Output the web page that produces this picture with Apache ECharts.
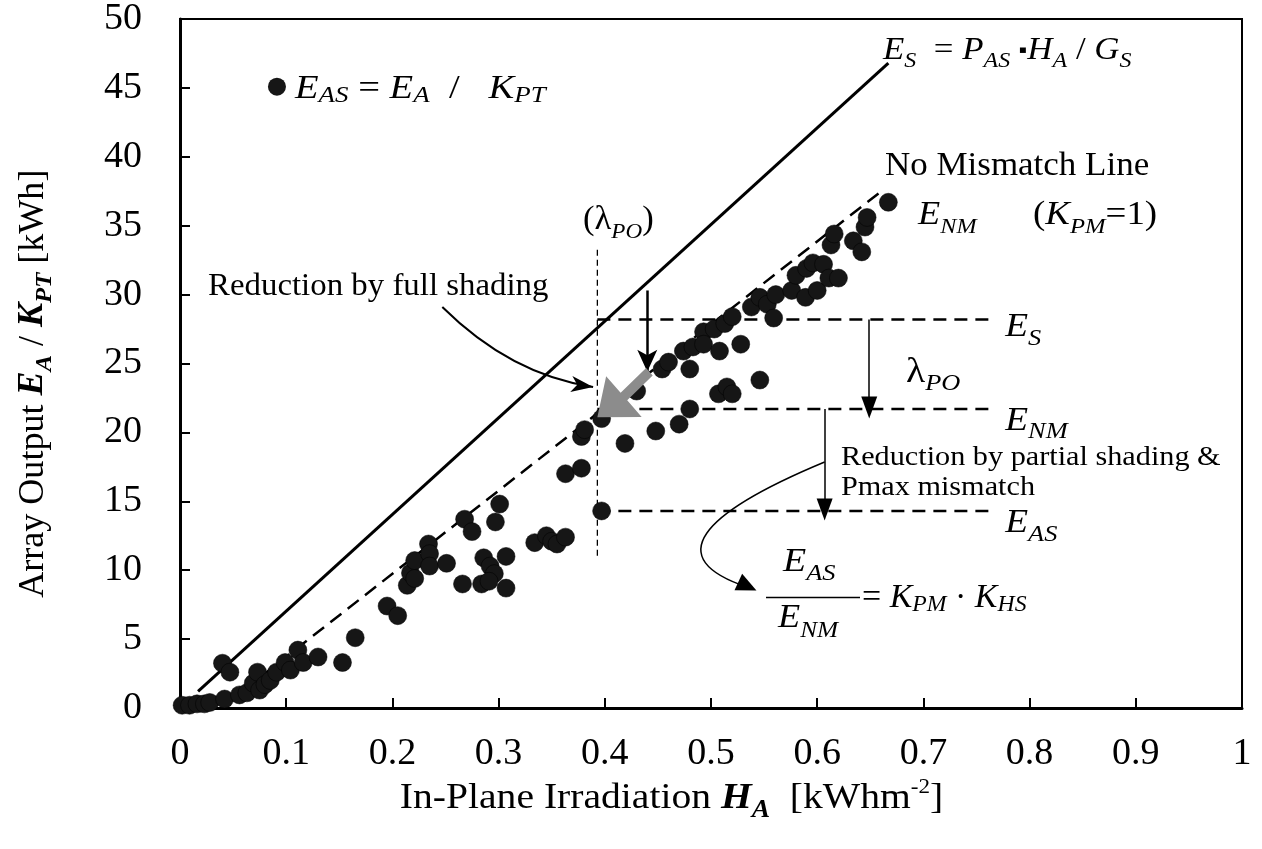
<!DOCTYPE html>
<html><head><meta charset="utf-8">
<script src="https://cdn.jsdelivr.net/npm/echarts@6/dist/echarts.min.js"></script>
<style>html,body{margin:0;padding:0;background:#fff}#c{width:1262px;height:849px}</style>
</head><body><div id="c"></div>
<script>
// ---------- data ----------
const irradiation = [0.002,0.009,0.016,0.023,0.028,0.042,0.040,0.047,0.056,0.063,0.069,0.073,0.075,0.080,0.085,0.091,0.099,0.104,0.111,0.116,0.130,0.153,0.165,0.195,0.205,0.214,0.217,0.221,0.221,0.234,0.235,0.235,0.251,0.268,0.275,0.266,0.284,0.286,0.292,0.296,0.291,0.297,0.301,0.307,0.307,0.334,0.345,0.350,0.355,0.363,0.363,0.378,0.378,0.381,0.397,0.397,0.419,0.430,0.448,0.454,0.460,0.470,0.474,0.480,0.480,0.483,0.493,0.493,0.503,0.507,0.508,0.513,0.515,0.520,0.520,0.528,0.538,0.546,0.546,0.553,0.559,0.561,0.576,0.580,0.589,0.590,0.596,0.600,0.606,0.611,0.613,0.616,0.620,0.634,0.642,0.645,0.647,0.667];
const arrayOutput = [0.2,0.2,0.3,0.3,0.4,0.65,3.25,2.6,0.95,1.1,1.8,2.6,1.3,1.7,2.0,2.6,3.3,2.75,4.2,3.3,3.7,3.3,5.1,7.4,6.7,8.9,9.8,9.4,10.7,11.9,11.2,10.3,10.5,13.7,12.8,9.0,9.0,10.9,10.3,9.75,9.2,13.5,14.8,11.0,8.7,12.0,12.5,12.1,11.9,12.4,17.0,17.4,19.7,20.2,21.0,14.3,19.2,23.0,20.1,24.6,25.1,20.6,25.9,21.7,24.6,26.2,27.3,26.4,27.5,22.8,25.9,27.9,23.3,22.8,28.4,26.4,29.1,29.8,23.8,29.3,28.3,30.0,30.3,31.4,29.8,31.9,32.3,30.3,32.2,31.2,33.6,34.4,31.2,33.9,33.1,34.9,35.6,36.7];
const esLine = [[0.017,1.2],[0.667,46.8]];          // E_S = P_AS*H_A/G_S
const enmLine = [[0.06,1.3],[0.662,37.6]];          // no mismatch line
const lambdaX = 0.393;                               // (λ_PO) marker
const lambdaSpan = [11.05,33.3];
const levelES = 28.2, levelENM = 21.7, levelEAS = 14.3;
const levelEnd = 0.764;
const xTickLabels = ['0','0.1','0.2','0.3','0.4','0.5','0.6','0.7','0.8','0.9','1'];
const yTickLabels = ['0','5','10','15','20','25','30','35','40','45','50'];

const FONT = '"Liberation Serif","Times New Roman",serif';
const chart = echarts.init(document.getElementById('c'));
const pts = irradiation.map((x,i)=>[x,arrayOutput[i]]);

function dashedSeg(a,b,w,dash){
  return {type:'line',data:[a,b],showSymbol:false,silent:true,z:3,
    lineStyle:{color:'#000',width:w,type:dash}};
}
function arrowSeries(segs,sym,size,w){
  return {type:'line',data:[],silent:true,z:4,
    markLine:{silent:true,symbol:['none',sym],symbolSize:size,label:{show:false},
      lineStyle:{color:'#000',width:w,type:'solid'},emphasis:{disabled:true},
      data:segs.map(s=>[{coord:s[0]},{coord:s[1]}])}};
}

chart.setOption({
  animation:false,
  grid:{left:180,right:20,top:15,bottom:141,show:true,borderColor:'#000',borderWidth:2},
  xAxis:{type:'value',min:0,max:1,interval:0.1,
    axisLine:{lineStyle:{color:'#000',width:3}},
    axisTick:{inside:true,length:10,lineStyle:{color:'#000',width:2}},
    axisLabel:{color:'#000',fontFamily:FONT,fontSize:38,margin:27,
      formatter:v=>xTickLabels[Math.round(v*10)]},
    splitLine:{show:false}},
  yAxis:{type:'value',min:0,max:50,interval:5,
    axisLine:{lineStyle:{color:'#000',width:3}},
    axisTick:{inside:true,length:10,lineStyle:{color:'#000',width:2}},
    axisLabel:{color:'#000',fontFamily:FONT,fontSize:38,margin:38,
      formatter:v=>yTickLabels[Math.round(v/5)]},
    splitLine:{show:false}},
  series:[
    {type:'line',data:esLine,showSymbol:false,silent:true,z:3,lineStyle:{color:'#000',width:3}},
    dashedSeg(enmLine[0],enmLine[1],2.5,[14,8]),
    dashedSeg([lambdaX,lambdaSpan[0]],[lambdaX,lambdaSpan[1]],1.3,[6,4]),
    dashedSeg([lambdaX,levelES],[levelEnd,levelES],2.5,[13,8]),
    dashedSeg([lambdaX,levelENM],[levelEnd,levelENM],2.5,[13,8]),
    dashedSeg([lambdaX,levelEAS],[levelEnd,levelEAS],2.5,[13,8]),
    {type:'scatter',data:pts,symbol:'circle',symbolSize:18,z:5,silent:true,
      itemStyle:{color:'#161616',opacity:1,borderColor:'#000',borderWidth:0.5}},
    arrowSeries([[[0.440,30.3],[0.440,24.4]]],'arrow',[15,22],2.5),
    arrowSeries([[[0.649,levelES],[0.649,levelENM+0.1]]],'triangle',[16,22],1.5),
    arrowSeries([[[0.607,levelENM],[0.607,levelEAS+0.1]]],'triangle',[16,22],1.5)
  ]
});

const mctx = document.createElement('canvas').getContext('2d');
function fstr(p){return (p.i?'italic ':'')+(p.b?'bold ':'')+p.s+'px '+FONT;}
function run(x0,base,pieces,sx){
  sx=sx||1;let x=x0;const out=[];
  pieces.forEach(p=>{
    const f=fstr(p);mctx.font=f;const w=mctx.measureText(p.t).width*sx;
    out.push({type:'text',x:x,y:base+(p.dy||0)+0.195*p.s,scaleX:sx,silent:true,z:100,
      style:{text:p.t,font:f,fill:'#000',align:'left',verticalAlign:'bottom'}});
    x+=w+(p.gap||0);
  });
  return out;
}
function P(x,y){return chart.convertToPixel({gridIndex:0},[x,y]);}
function headPts(tip,from,len,hw,notch){
  const dx=tip[0]-from[0],dy=tip[1]-from[1],L=Math.hypot(dx,dy),ux=dx/L,uy=dy/L,px=-uy,py=ux;
  const bx=tip[0]-ux*len,by=tip[1]-uy*len,nx=tip[0]-ux*(len-notch),ny=tip[1]-uy*(len-notch);
  return [tip,[bx+px*hw,by+py*hw],[nx,ny],[bx-px*hw,by-py*hw]];
}

const g=[];
// legend marker + text
const lp=P(0.0913,45.09);
g.push({type:'circle',shape:{cx:lp[0],cy:lp[1],r:9},style:{fill:'#161616'},silent:true,z:100});
let a=P(0.1083,44.15);
g.push(...run(a[0],a[1],[{t:'E',s:33,i:1},{t:'AS',s:23,i:1,dy:3},{t:' = ',s:33},{t:'E',s:33,i:1},{t:'A',s:23,i:1,dy:3},{t:'  /   ',s:33},{t:'K',s:33,i:1},{t:'PT',s:23,i:1,dy:3}],1.17));
// E_S formula
a=P(0.662,46.97);
g.push(...run(a[0],a[1],[{t:'E',s:32,i:1},{t:'S',s:22,i:1,dy:7},{t:'  = ',s:32},{t:'P',s:32,i:1},{t:'AS',s:22,i:1,dy:7},{t:' ',s:32},{t:'\u25aa',s:22,dy:-3},{t:'H',s:32,i:1},{t:'A',s:22,i:1,dy:7},{t:' / ',s:32},{t:'G',s:32,i:1},{t:'S',s:22,i:1,dy:7}],1.09));
// No Mismatch Line
a=P(0.6638,38.58);
g.push(...run(a[0],a[1],[{t:'No Mismatch Line',s:33}],1.06));
a=P(0.695,35.04);
g.push(...run(a[0],a[1],[{t:'E',s:33,i:1},{t:'NM',s:22,i:1,dy:9}],1.1));
a=P(0.8032,35.04);
g.push(...run(a[0],a[1],[{t:'(',s:33},{t:'K',s:33,i:1},{t:'PM',s:22,i:1,dy:9},{t:'=1)',s:33}],1.12));
// (λ_PO)
a=P(0.3795,34.68);
g.push(...run(a[0],a[1],[{t:'(',s:33},{t:'\u03bb',s:33},{t:'PO',s:22,i:1,dy:9},{t:')',s:33}],1.05));
// Reduction by full shading
a=P(0.0264,29.84);
g.push(...run(a[0],a[1],[{t:'Reduction by full shading',s:31}],1.06));
// level labels
a=P(0.777,26.88);
g.push(...run(a[0],a[1],[{t:'E',s:34,i:1},{t:'S',s:24,i:1,dy:8}],1.1));
a=P(0.777,20.09);
g.push(...run(a[0],a[1],[{t:'E',s:34,i:1},{t:'NM',s:24,i:1,dy:8}],1.1));
a=P(0.777,12.64);
g.push(...run(a[0],a[1],[{t:'E',s:34,i:1},{t:'AS',s:24,i:1,dy:8}],1.1));
// λ_PO
a=P(0.6836,23.55);
g.push(...run(a[0],a[1],[{t:'\u03bb',s:36},{t:'PO',s:24,i:1,dy:8}],1.1));
// partial shading text
a=P(0.6224,17.56);
g.push(...run(a[0],a[1],[{t:'Reduction by partial shading &',s:27}],1.12));
a=P(0.6224,15.39);
g.push(...run(a[0],a[1],[{t:'Pmax mismatch',s:27}],1.12));
// fraction
a=P(0.5678,9.83);
g.push(...run(a[0],a[1],[{t:'E',s:33,i:1},{t:'AS',s:23,i:1,dy:8}],1.15));
a=P(0.5631,5.78);
g.push(...run(a[0],a[1],[{t:'E',s:33,i:1},{t:'NM',s:23,i:1,dy:10}],1.1));
let b1=P(0.5518,8.02),b2=P(0.6403,8.02);
g.push({type:'line',shape:{x1:b1[0],y1:b1[1],x2:b2[0],y2:b2[1]},style:{stroke:'#000',lineWidth:1.5},silent:true,z:100});
a=P(0.6422,7.23);
g.push(...run(a[0],a[1],[{t:'= ',s:33},{t:'K',s:33,i:1},{t:'PM',s:23,i:1,dy:4},{t:' \u00b7 ',s:33},{t:'K',s:33,i:1},{t:'HS',s:23,i:1,dy:4}],1.03));

// curved arrow: full shading
let c0=P(0.247,29.1),c1=P(0.311,24.2),c2=P(0.389,23.3);
g.push({type:'bezierCurve',shape:{x1:c0[0],y1:c0[1],cpx1:c1[0],cpy1:c1[1],x2:c2[0],y2:c2[1]},style:{stroke:'#000',lineWidth:2,fill:null},silent:true,z:100});
let tip=P(0.389,23.3);
g.push({type:'polygon',shape:{points:headPts(tip,[tip[0]-30,tip[1]-4],22,8,6)},style:{fill:'#000'},silent:true,z:100});
// curved arrow: partial shading
let d0=P(0.607,17.85),d1=P(0.490,14.1),d2=P(0.452,10.85),d3=P(0.535,8.75);
g.push({type:'bezierCurve',shape:{x1:d0[0],y1:d0[1],cpx1:d1[0],cpy1:d1[1],cpx2:d2[0],cpy2:d2[1],x2:d3[0],y2:d3[1]},style:{stroke:'#000',lineWidth:1.5,fill:null},silent:true,z:100});
let t2=P(0.5428,8.53);
g.push({type:'polygon',shape:{points:headPts(t2,[t2[0]-30,t2[1]-14],20,9,0)},style:{fill:'#000'},silent:true,z:100});
// grey arrow
let s0=P(0.442,24.4),hb=P(0.418,22.6),gt=P(0.393,21.1);
{
  const dx=gt[0]-s0[0],dy=gt[1]-s0[1],L=Math.hypot(dx,dy),ux=dx/L,uy=dy/L,px=-uy,py=ux,hw=5,HW=27;
  const pts2=[[s0[0]+px*hw,s0[1]+py*hw],[hb[0]+px*hw,hb[1]+py*hw],[hb[0]+px*HW,hb[1]+py*HW],gt,[hb[0]-px*HW,hb[1]-py*HW],[hb[0]-px*hw,hb[1]-py*hw],[s0[0]-px*hw,s0[1]-py*hw]];
  g.push({type:'polygon',shape:{points:pts2},style:{fill:'#8c8c8c'},silent:true,z:90});
}
// axis titles
const xb=P(0.207,-7.4);
g.push(...run(xb[0],xb[1],[{t:'In-Plane Irradiation ',s:36},{t:'H',s:36,i:1,b:1},{t:'A',s:25,i:1,b:1,dy:8},{t:'  [kWhm',s:36},{t:'-2',s:21,dy:-16},{t:']',s:36}],1.1));
const yb=P(-0.128,8.0);
g.push({type:'group',x:yb[0],y:yb[1],rotation:Math.PI/2,silent:true,z:100,
  children:run(0,0,[{t:'Array Output ',s:35},{t:'E',s:35,i:1,b:1},{t:'A',s:24,i:1,b:1,dy:8},{t:' / ',s:35},{t:'K',s:35,i:1,b:1},{t:'PT',s:24,i:1,b:1,dy:8},{t:' [kWh]',s:35}],1.03)});
chart.setOption({graphic:g});
</script></body></html>
